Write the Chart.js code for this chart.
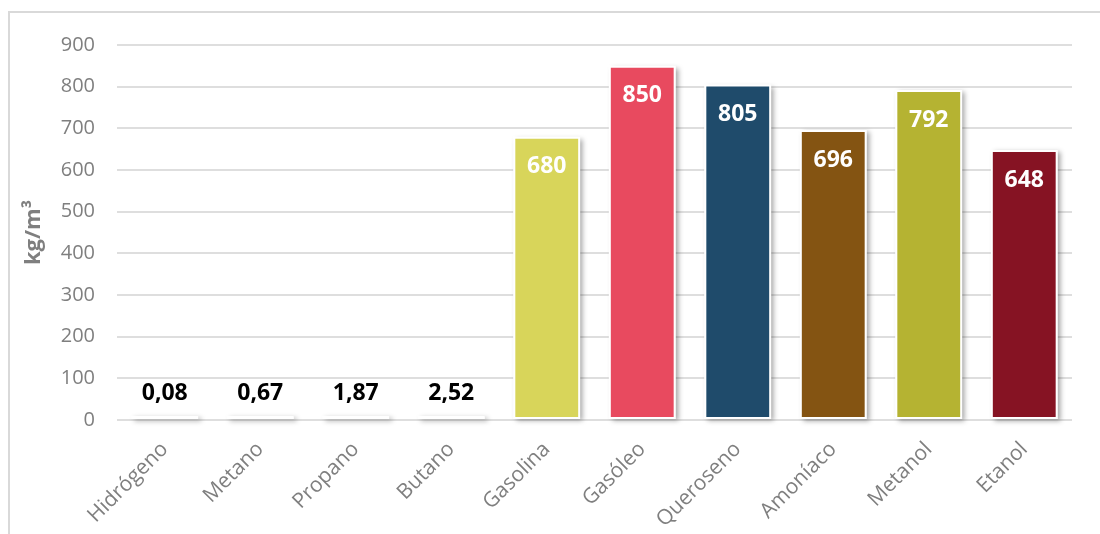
<!DOCTYPE html>
<html>
<head>
<meta charset="utf-8">
<script src="https://cdn.jsdelivr.net/npm/chart.js@4"></script>
<style>
  body { margin: 0; overflow: hidden; background: #fff; }
  #wrap { position: relative; width: 1100px; height: 534px; }
  #frame { position: absolute; left: 8px; top: 11px; width: 1200px; height: 600px;
           border-left: 2px solid #d9d9d9; border-top: 2px solid #d9d9d9; }
  canvas { position: absolute; left: 0; top: 0; }
</style>
</head>
<body>
<div id="wrap">
  <div id="frame"></div>
  <canvas id="chart" width="1100" height="534"></canvas>
</div>
<script>
'use strict';

var ctx = document.getElementById('chart').getContext('2d');

var labels = ['Hidrógeno', 'Metano', 'Propano', 'Butano', 'Gasolina', 'Gasóleo', 'Queroseno', 'Amoníaco', 'Metanol', 'Etanol'];
var density = [0.08, 0.67, 1.87, 2.52, 680, 850, 805, 696, 792, 648];
var colors = ['#ffffff', '#ffffff', '#ffffff', '#ffffff', '#d8d55a', '#e84a5f', '#1f4b6b', '#845412', '#b5b332', '#861323'];
var yTicks = [0, 100, 200, 300, 400, 500, 600, 700, 800, 900];

var grey = '#7f7f7f';

// drop shadow behind each bar (drawn before the bars so the white border stays clean)
var barShadow = {
  id: 'barShadow',
  beforeDatasetsDraw: function (chart) {
    var c = chart.ctx;
    var meta = chart.getDatasetMeta(0);
    c.save();
    c.shadowColor = 'rgba(0,0,0,0.35)';
    c.shadowBlur = 5;
    c.shadowOffsetX = 3;
    c.shadowOffsetY = 2;
    c.fillStyle = '#ffffff';
    meta.data.forEach(function (bar) {
      var h = Math.max(bar.base - bar.y, 3);
      c.fillRect(bar.x - bar.width / 2, bar.base - h, bar.width, h);
    });
    c.restore();
  }
};

// value labels: inside the top for tall bars, above for tiny ones
var valueLabels = {
  id: 'valueLabels',
  afterDatasetsDraw: function (chart) {
    var c = chart.ctx;
    var meta = chart.getDatasetMeta(0);
    c.save();
    c.font = 'bold 23px "Open Sans"';
    c.textAlign = 'center';
    c.textBaseline = 'middle';
    meta.data.forEach(function (bar, i) {
      var v = density[i];
      var txt = String(v).replace('.', ',');
      if (v < 50) {
        c.fillStyle = '#000000';
        c.fillText(txt, bar.x, bar.y - 24);
      } else {
        c.fillStyle = '#ffffff';
        c.fillText(txt, bar.x, bar.y + 30);
      }
    });
    c.restore();
  }
};

var chart = new Chart(ctx, {
  type: 'bar',
  data: {
    labels: labels,
    datasets: [{
      label: 'kg/m³',
      data: density,
      backgroundColor: colors,
      borderColor: '#ffffff',
      borderWidth: 2,
      borderSkipped: false,
      minBarLength: 3,
      barPercentage: 0.7,
      categoryPercentage: 1
    }]
  },
  options: {
    responsive: false,
    animation: false,
    layout: { padding: { left: 12, right: 28, top: 45, bottom: 0 } },
    plugins: {
      legend: { display: false },
      tooltip: { enabled: false }
    },
    scales: {
      x: {
        grid: { display: false },
        border: { display: false },
        ticks: {
          color: grey,
          font: { family: 'Open Sans', size: 21 },
          minRotation: 45,
          maxRotation: 45,
          padding: 9
        },
        afterFit: function (scale) { scale.height = 114; }
      },
      y: {
        min: 0,
        max: 900,
        afterBuildTicks: function (scale) {
          scale.ticks = yTicks.map(function (v) { return { value: v }; });
        },
        grid: { color: '#dedede', lineWidth: 2, drawTicks: false },
        border: { display: false },
        ticks: {
          color: grey,
          font: { family: 'Open Sans', size: 20 },
          padding: 22
        },
        title: {
          display: true,
          text: 'kg/m³',
          color: grey,
          font: { family: 'Open Sans', size: 22, weight: 'bold' },
          padding: { top: 9, bottom: 0 }
        },
        afterFit: function (scale) { scale.width = 105; }
      }
    }
  },
  plugins: [barShadow, valueLabels]
});
</script>
</body>
</html>
